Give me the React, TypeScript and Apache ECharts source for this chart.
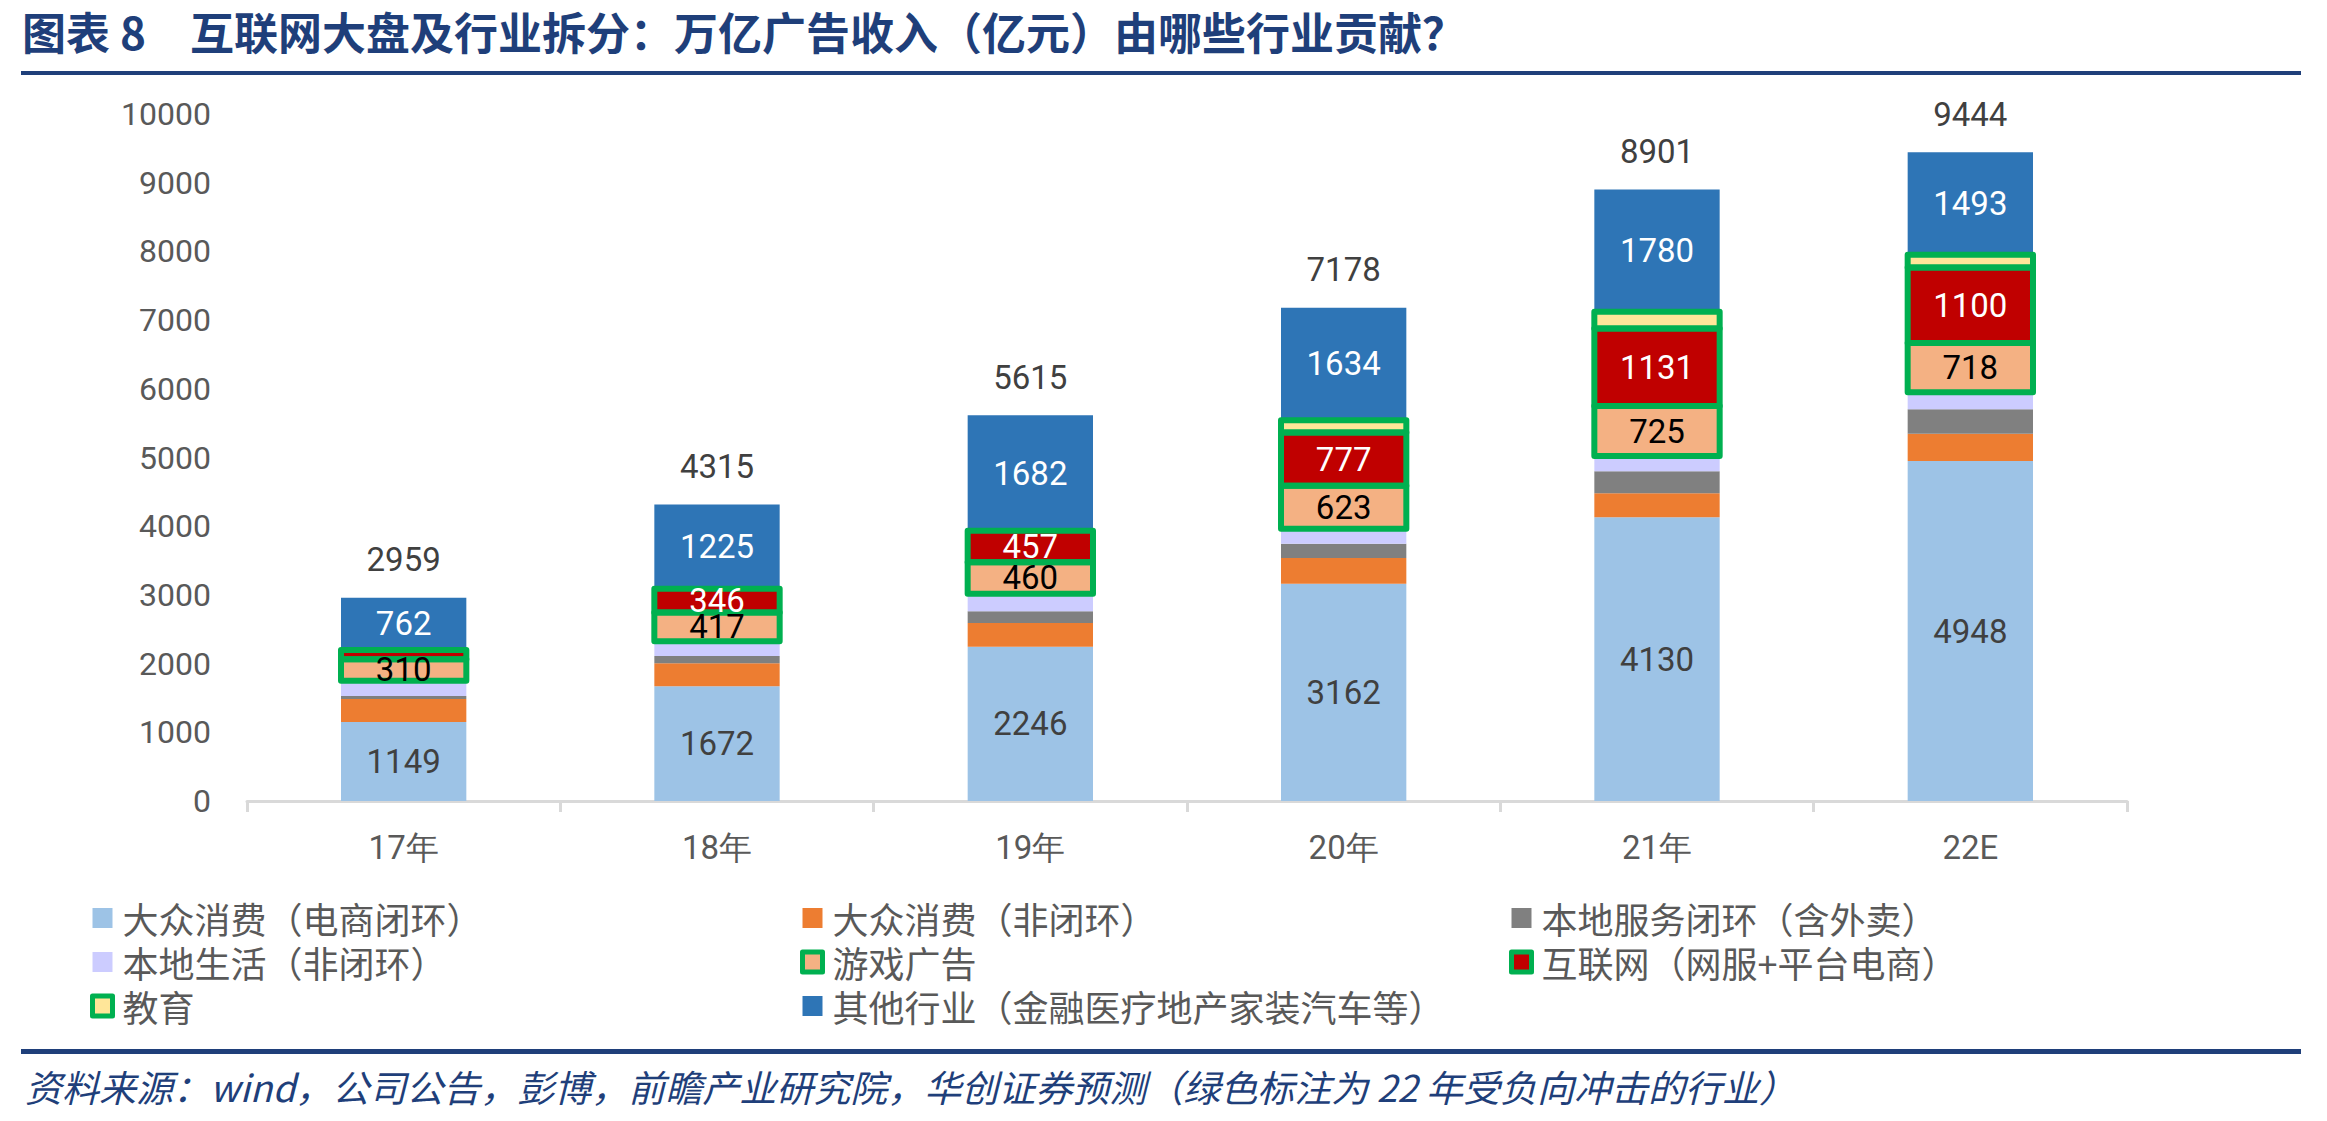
import React, { useEffect, useRef } from 'react';
import * as echarts from 'echarts';

// Categories (years) and ad revenue by industry, 亿元
const years = ['17年', '18年', '19年', '20年', '21年', '22E'];
const massEcommerce = [1149, 1672, 2246, 3162, 4130, 4948];
const massOpen = [335, 333, 345, 374, 350, 398];
const localService = [43, 107, 170, 209, 321, 355];
const localLife = [225, 215, 255, 219, 222, 248];
const gameAds = [310, 417, 460, 623, 725, 718];
const internetAds = [135, 346, 457, 777, 1131, 1100];
const educationAds = [0, 0, 0, 180, 242, 184];
const otherAds = [762, 1225, 1682, 1634, 1780, 1493];
const totals = [2959, 4315, 5615, 7178, 8901, 9444];

// Y axis ticks
const yMin = 0;
const yMax = 10000;
const yStep = 1000;

const N_MASS_EC = '大众消费（电商闭环）';
const N_MASS_OPEN = '大众消费（非闭环）';
const N_LOCAL_SVC = '本地服务闭环（含外卖）';
const N_LOCAL_LIFE = '本地生活（非闭环）';
const N_GAME = '游戏广告';
const N_INTERNET = '互联网（网服+平台电商）';
const N_EDU = '教育';
const N_OTHER = '其他行业（金融医疗地产家装汽车等）';

const TITLE = '图表 8　互联网大盘及行业拆分：万亿广告收入（亿元）由哪些行业贡献？';
const SOURCE = '资料来源：wind，公司公告，彭博，前瞻产业研究院，华创证券预测（绿色标注为 22 年受负向冲击的行业）';

const GREEN = '#00B050';
const NAVY = '#1F3F7A';
const NUM_FONT = 'Roboto, "Noto Sans", sans-serif';
const CJK_FONT = '"Noto Sans CJK SC", sans-serif';
const BAR_RATIO = 0.4;

export default function App() {
  const ref = useRef<HTMLDivElement>(null);

  useEffect(() => {
    const chart = echarts.init(ref.current!, null, { renderer: 'svg' });

    const seg = (name: string, data: number[], color: string, labelColor?: string) => ({
      type: 'bar',
      name,
      data,
      stack: 'total',
      barWidth: BAR_RATIO * 100 + '%',
      itemStyle: { color },
      silent: true,
      label: labelColor
        ? {
            show: true,
            position: 'inside',
            color: labelColor,
            fontSize: 33,
            fontFamily: NUM_FONT,
          }
        : { show: false },
    });

    // Stack height underneath the green-framed segments
    const below = (i: number) => massEcommerce[i] + massOpen[i] + localService[i] + localLife[i];

    const framedIcon = { borderColor: GREEN, borderWidth: 5, borderJoin: 'round' };
    const legendCommon = {
      orient: 'vertical',
      top: 895,
      itemWidth: 20,
      itemHeight: 20,
      itemGap: 8,
      icon: 'rect',
      selectedMode: false,
      textStyle: { fontSize: 36, color: '#595959', fontFamily: CJK_FONT, padding: [0, 0, 0, 5] },
    };

    chart.setOption({
      animation: false,
      backgroundColor: '#ffffff',
      grid: { left: 247, right: 200, top: 114, bottom: 320, containLabel: false },
      xAxis: {
        type: 'category',
        data: years,
        axisLine: { lineStyle: { color: '#D9D9D9', width: 3 } },
        axisTick: { show: true, length: 11, lineStyle: { color: '#D9D9D9', width: 3 } },
        axisLabel: { color: '#595959', fontSize: 33, fontFamily: NUM_FONT, margin: 30 },
      },
      yAxis: {
        type: 'value',
        min: yMin,
        max: yMax,
        interval: yStep,
        axisLine: { show: false },
        axisTick: { show: false },
        splitLine: { show: false },
        axisLabel: {
          color: '#595959',
          fontSize: 32,
          fontFamily: NUM_FONT,
          margin: 36,
          formatter: (v: number) => String(v),
        },
      },
      legend: [
        {
          ...legendCommon,
          left: 85,
          data: [{ name: N_MASS_EC }, { name: N_LOCAL_LIFE }, { name: N_EDU, itemStyle: framedIcon }],
        },
        {
          ...legendCommon,
          left: 795,
          data: [{ name: N_MASS_OPEN }, { name: N_GAME, itemStyle: framedIcon }, { name: N_OTHER }],
        },
        {
          ...legendCommon,
          left: 1504,
          data: [{ name: N_LOCAL_SVC }, { name: N_INTERNET, itemStyle: framedIcon }],
        },
      ],
      graphic: [
        {
          type: 'text',
          x: 22,
          y: 31,
          style: {
            text: TITLE,
            fill: NAVY,
            fontSize: 44,
            fontWeight: 'bold',
            fontFamily: CJK_FONT,
            align: 'left',
            verticalAlign: 'middle',
          },
        },
        { type: 'rect', shape: { x: 21, y: 71, width: 2280, height: 4 }, style: { fill: NAVY } },
        { type: 'rect', shape: { x: 21, y: 1049, width: 2280, height: 5 }, style: { fill: NAVY } },
        {
          type: 'text',
          x: 25,
          y: 1086,
          style: {
            text: SOURCE,
            fill: NAVY,
            fontSize: 37,
            fontStyle: 'italic',
            fontFamily: CJK_FONT,
            align: 'left',
            verticalAlign: 'middle',
          },
        },
      ],
      series: [
        seg(N_MASS_EC, massEcommerce, '#9DC3E6', '#404040'),
        seg(N_MASS_OPEN, massOpen, '#ED7D31'),
        seg(N_LOCAL_SVC, localService, '#808080'),
        seg(N_LOCAL_LIFE, localLife, '#CCCCFF'),
        seg(N_GAME, gameAds, '#F4B183'),
        seg(N_INTERNET, internetAds, '#C00000'),
        seg(N_EDU, educationAds, '#FFE699'),
        seg(N_OTHER, otherAds, '#2E75B6', '#ffffff'),
        {
          // green frames around the segments hit in 22E, their values, and the totals
          type: 'custom',
          name: 'frames',
          z: 5,
          silent: true,
          data: years.map((_, i) => [i, totals[i]]),
          encode: { x: 0, y: 1 },
          renderItem: (params: any, api: any) => {
            const i = api.value(0) as number;
            const w = api.size([1, 0])[0] * BAR_RATIO;
            const frames: any[] = [];
            const texts: any[] = [];
            let base = below(i);
            const parts = [
              { v: gameAds[i], color: '#000000' },
              { v: internetAds[i], color: '#ffffff' },
              { v: educationAds[i], color: '' },
            ];
            parts.forEach((p) => {
              if (p.v <= 0) return;
              const top = api.coord([i, base + p.v]);
              const bot = api.coord([i, base]);
              frames.push({
                type: 'rect',
                shape: { x: top[0] - w / 2, y: top[1], width: w, height: bot[1] - top[1] },
                style: { fill: 'none', stroke: GREEN, lineWidth: 6, lineJoin: 'round' },
              });
              if (p.color && p.v >= 200) {
                texts.push({
                  type: 'text',
                  style: {
                    text: String(p.v),
                    x: top[0],
                    y: (top[1] + bot[1]) / 2,
                    align: 'center',
                    verticalAlign: 'middle',
                    fill: p.color,
                    fontSize: 33,
                    fontFamily: NUM_FONT,
                  },
                });
              }
              base += p.v;
            });
            const t = api.coord([i, totals[i]]);
            texts.push({
              type: 'text',
              style: {
                text: String(totals[i]),
                x: t[0],
                y: t[1] - 38,
                align: 'center',
                verticalAlign: 'middle',
                fill: '#404040',
                fontSize: 33,
                fontFamily: NUM_FONT,
              },
            });
            return { type: 'group', children: [...frames, ...texts] };
          },
        },
      ],
    });

    return () => chart.dispose();
  }, []);

  return (
    <div
      ref={ref}
      style={{ position: 'fixed', left: 0, top: 0, width: 2327, height: 1121, background: '#fff' }}
    />
  );
}
